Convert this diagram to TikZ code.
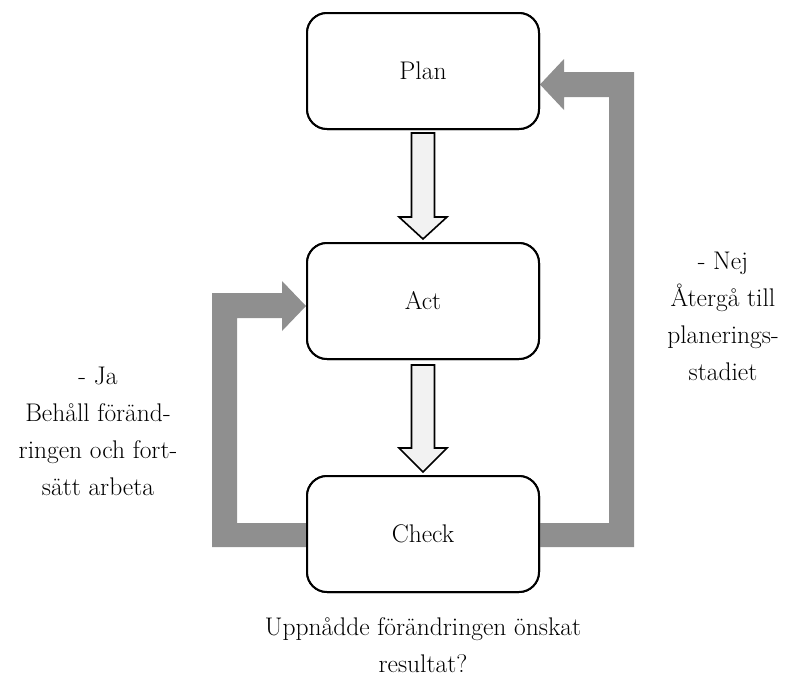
\documentclass[tikz,border=0pt]{standalone}
\usepackage{fontspec}
\setmainfont{Latin Modern Roman}
\usetikzlibrary{calc}
\definecolor{loopgray}{RGB}{143,143,143}
\definecolor{stepfill}{RGB}{242,242,242}
\tikzset{
  stage/.style={draw=black, line width=2pt, rounded corners=20pt, fill=white,
    minimum width=232pt, minimum height=116pt, inner sep=0pt,
    font=\fontsize{25.5}{37}\selectfont},
  hollow/.style={draw=black, line width=1.6pt, fill=stepfill, line join=miter},
  loopback/.style={fill=loopgray, draw=none},
  note/.style={align=center, inner sep=0pt, font=\fontsize{25.5}{37}\selectfont}
}
\begin{document}
\begin{tikzpicture}[x=1pt, y=-1pt]
  \useasboundingbox (0,0) rectangle (786,691);

  % the three stages
  \node[stage] (plan)  at (423,71)  {Plan};
  \node[stage] (act)   at (423,301) {Act};
  \node[stage] (check) at (423,534) {Check};

  % feedback loop: Check -> Act (yes)
  \fill[loopback]
    ($(check.west)+(0,-11)$) -- ($(check.west)+(-69,-11)$) --
    ($(act.west)+(-69,17)$) -- ($(act.west)+(-24,17)$) --
    ($(act.west)+(-24,30)$) -- ($(act.west)+(0,5)$) --
    ($(act.west)+(-24,-20)$) -- ($(act.west)+(-24,-8)$) --
    ($(act.west)+(-94,-8)$) -- ($(check.west)+(-94,13)$) --
    ($(check.west)+(0,13)$) -- cycle;

  % feedback loop: Check -> Plan (no)
  \fill[loopback]
    ($(check.east)+(0,-11)$) -- ($(check.east)+(69,-11)$) --
    ($(plan.east)+(69,26)$) -- ($(plan.east)+(24,26)$) --
    ($(plan.east)+(24,39)$) -- ($(plan.east)+(0,13.5)$) --
    ($(plan.east)+(24,-12)$) -- ($(plan.east)+(24,1)$) --
    ($(plan.east)+(94,1)$) -- ($(check.east)+(94,13)$) --
    ($(check.east)+(0,13)$) -- cycle;

  % redraw the stage borders on top of the loops
  \node[stage] at (plan)  {Plan};
  \node[stage] at (act)   {Act};
  \node[stage] at (check) {Check};

  % block arrows between stages
  \draw[hollow]
    ($(plan.south)+(-11.5,3)$) -- ($(act.north)+(-11.5,-25)$) --
    ($(act.north)+(-24,-25)$) -- ($(act.north)+(0,-3)$) --
    ($(act.north)+(24,-25)$) -- ($(act.north)+(11.5,-25)$) --
    ($(plan.south)+(11.5,3)$) -- cycle;
  \draw[hollow]
    ($(act.south)+(-11.5,5)$) -- ($(check.north)+(-11.5,-27)$) --
    ($(check.north)+(-24,-27)$) -- ($(check.north)+(0,-3)$) --
    ($(check.north)+(24,-27)$) -- ($(check.north)+(11.5,-27)$) --
    ($(act.south)+(11.5,5)$) -- cycle;

  % labels
  \node[note] (nej) at (723,316) {- Nej\\Återgå till\\planerings-\\stadiet};
  \node[note] (ja)  at (98,431) {- Ja\\Behåll föränd-\\ringen och fort-\\sätt arbeta};
  \node[note] (question) at (423,645) {Uppnådde förändringen önskat\\resultat?};
\end{tikzpicture}
\end{document}
